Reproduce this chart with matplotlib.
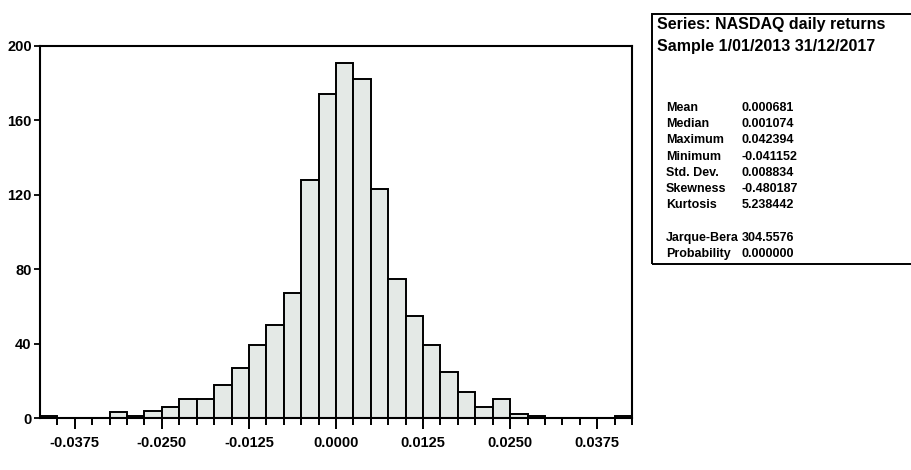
import numpy as np
import matplotlib.pyplot as plt

plt.rcParams['font.family'] = ['Liberation Sans', 'DejaVu Sans']

# histogram of daily returns, bin width 0.0025
bin_left = np.round(np.arange(-0.0425, 0.0425, 0.0025), 4)
counts = [1, 0, 0, 0, 3, 1, 4, 6, 10, 10, 18, 27, 39, 50, 67, 128, 174,
          191, 182, 123, 75, 55, 39, 25, 14, 6, 10, 2, 1, 0, 0, 0, 0, 1]

x_ticks = [-0.0375, -0.0250, -0.0125, 0.0000, 0.0125, 0.0250, 0.0375]
y_ticks = [0, 40, 80, 120, 160, 200]

series_title = "Series: NASDAQ daily returns"
sample_text = "Sample 1/01/2013 31/12/2017"
stat_names = ["Mean", "Median", "Maximum", "Minimum", "Std. Dev.",
              "Skewness", "Kurtosis", "", "Jarque-Bera", "Probability"]
stat_values = ["0.000681", "0.001074", "0.042394", "-0.041152", "0.008834",
               "-0.480187", "5.238442", "", "304.5576", "0.000000"]

W, H = 911, 470
fig = plt.figure(figsize=(W / 100, H / 100), dpi=100)
ax = fig.add_axes([40 / W, 1 - 418 / H, 592 / W, 372 / H])

ax.bar(bin_left, counts, width=0.0025, align='edge',
       facecolor='#e4e9e6', edgecolor='black', linewidth=1.4)

ax.set_xlim(-0.0425, 0.0425)
ax.set_ylim(0, 200)
ax.set_xticks(x_ticks)
ax.set_xticklabels([f"{v:.4f}" for v in x_ticks])
ax.set_xticks(np.arange(-0.04, 0.0426, 0.0025), minor=True)
ax.set_yticks(y_ticks)
ax.tick_params(axis='x', which='major', length=8, width=1.4, pad=5,
               labelsize=10.5)
ax.tick_params(axis='x', which='minor', length=5, width=1.4)
ax.tick_params(axis='y', length=4, width=1.3, labelsize=10.5, pad=2)
for lab in ax.get_xticklabels() + ax.get_yticklabels():
    lab.set_fontweight('bold')
for s in ax.spines.values():
    s.set_linewidth(1.5)

# statistics box
box = plt.Rectangle((652 / W, 1 - 264 / H), 262 / W, 250 / H,
                    transform=fig.transFigure, fill=False,
                    edgecolor='black', linewidth=1.4)
fig.patches.append(box)

head = dict(fontsize=11.5, fontweight='bold', va='center', ha='left')
txt = dict(fontsize=9, fontweight='bold', va='center', ha='left')
fig.text(657 / W, 1 - 25 / H, series_title, **head)
fig.text(657 / W, 1 - 46 / H, sample_text, **head)
y0 = 108
for i, (name, val) in enumerate(zip(stat_names, stat_values)):
    y = y0 + i * 16.2
    fig.text(666 / W, 1 - y / H, name, **txt)
    fig.text(742 / W, 1 - y / H, val, **txt)

fig.savefig("out.png", dpi=100)
